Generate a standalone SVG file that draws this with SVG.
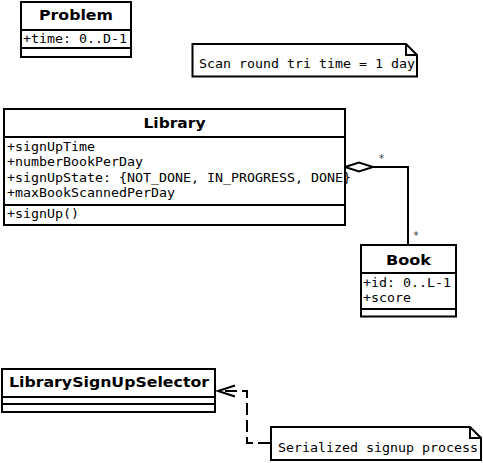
<svg xmlns="http://www.w3.org/2000/svg" width="483" height="463" viewBox="0 0 483 463">
<style>
.box{fill:#fff;stroke:#000;stroke-width:2}
.ln{stroke:#000;stroke-width:2;fill:none}
.t{font-family:"DejaVu Sans","Liberation Sans",sans-serif;font-weight:bold;font-size:13.5px;text-anchor:middle;fill:#000}
.m{font-family:"DejaVu Sans Mono","Liberation Mono",monospace;font-size:12px;fill:#000}
.mult{font-family:"DejaVu Sans","Liberation Sans",sans-serif;font-size:10px;text-anchor:middle;fill:#333}
.dash{stroke:#000;stroke-width:2;fill:none;stroke-dasharray:12,5}
</style>
<rect width="483" height="463" fill="#fff"/>
<g id="connectors">
  <polyline class="ln" points="373,167 408,167 408,245"/>
  <polygon points="345,167 359,162.5 373,167 359,171.5" fill="#fff" stroke="#000" stroke-width="2"/>
  <text class="mult" x="381.5" y="162">*</text>
  <text class="mult" x="416" y="239">*</text>
  <path class="dash" d="M270,443 H247 V391 H219"/>
  <polyline class="ln" points="235,385.5 218,391 235,396.5"/>
</g>
<g id="Problem">
  <rect class="box" x="21" y="2" width="110" height="55"/>
  <line class="ln" x1="21" y1="30" x2="131" y2="30"/>
  <line class="ln" x1="21" y1="48" x2="131" y2="48"/>
  <text class="t" x="76" y="20" textLength="74" lengthAdjust="spacingAndGlyphs">Problem</text>
  <text class="m" x="23" y="43" textLength="104" lengthAdjust="spacingAndGlyphs">+time: 0..D-1</text>
</g>
<g id="note-scan">
  <path class="box" d="M192.5,44 H406 L417,55 V76.5 H192.5 Z"/>
  <path class="ln" d="M406,44 V55 H417"/>
  <text class="m" x="199" y="68" textLength="216" lengthAdjust="spacingAndGlyphs">Scan round tri time = 1 day</text>
</g>
<g id="Library">
  <rect class="box" x="4" y="109" width="341" height="116"/>
  <line class="ln" x1="4" y1="137" x2="345" y2="137"/>
  <line class="ln" x1="4" y1="205" x2="345" y2="205"/>
  <text class="t" x="174.5" y="128" textLength="62" lengthAdjust="spacingAndGlyphs">Library</text>
  <text class="m" x="7" y="150.5" textLength="88" lengthAdjust="spacingAndGlyphs">+signUpTime</text>
  <text class="m" x="7" y="166" textLength="136" lengthAdjust="spacingAndGlyphs">+numberBookPerDay</text>
  <text class="m" x="7" y="181.5" textLength="344" lengthAdjust="spacingAndGlyphs">+signUpState: {NOT_DONE, IN_PROGRESS, DONE}</text>
  <text class="m" x="7" y="197" textLength="168" lengthAdjust="spacingAndGlyphs">+maxBookScannedPerDay</text>
  <text class="m" x="7" y="218" textLength="72" lengthAdjust="spacingAndGlyphs">+signUp()</text>
</g>
<g id="Book">
  <rect class="box" x="361" y="245" width="95" height="71.5"/>
  <line class="ln" x1="361" y1="273" x2="456" y2="273"/>
  <line class="ln" x1="361" y1="309" x2="456" y2="309"/>
  <text class="t" x="408.5" y="265" textLength="45" lengthAdjust="spacingAndGlyphs">Book</text>
  <text class="m" x="363" y="287" textLength="88" lengthAdjust="spacingAndGlyphs">+id: 0..L-1</text>
  <text class="m" x="363" y="302" textLength="48" lengthAdjust="spacingAndGlyphs">+score</text>
</g>
<g id="LibrarySignUpSelector">
  <rect class="box" x="2" y="369" width="213" height="43"/>
  <line class="ln" x1="2" y1="397" x2="215" y2="397"/>
  <line class="ln" x1="2" y1="404" x2="215" y2="404"/>
  <text class="t" x="109" y="387" textLength="200" lengthAdjust="spacingAndGlyphs">LibrarySignUpSelector</text>
</g>
<g id="note-signup">
  <path class="box" d="M271,427 H470 L481,438 V460 H271 Z"/>
  <path class="ln" d="M470,427 V438 H481"/>
  <text class="m" x="278" y="451.5" textLength="200" lengthAdjust="spacingAndGlyphs">Serialized signup process</text>
</g>
</svg>
